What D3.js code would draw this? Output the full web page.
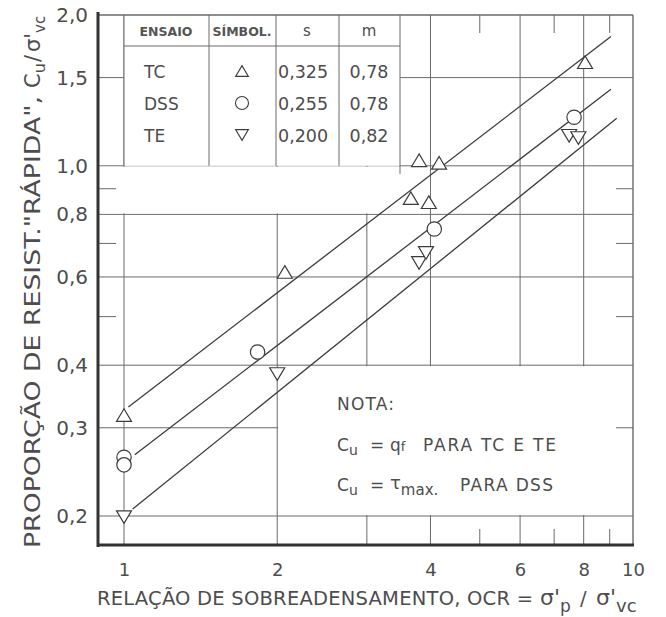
<!DOCTYPE html>
<html><head><meta charset="utf-8">
<script src="https://cdn.jsdelivr.net/npm/d3@7"></script>
<style>
html,body{margin:0;padding:0;background:#fff;}
svg{display:block;}
text{font-family:"DejaVu Sans",sans-serif;fill:#4d4d4d;}
</style></head><body>
<svg id="chart" width="666" height="617"></svg>
<script>
// Normalised undrained strength Cu/σ'vc against overconsolidation ratio (log-log)

// Fitted relation Cu/σ'vc = s · OCR^m, one per test type
const tests = ["TC", "DSS", "TE"];
const sValues = [0.325, 0.255, 0.200];
const mValues = [0.78, 0.78, 0.82];
const fitFrom = [1.02, 1.05, 1.04];   // OCR where each fitted line starts
const fitTo = [9.05, 9.05, 9.29];     // OCR where each fitted line ends

// Measured points
const ocrTC = [1.0, 2.07, 3.66, 3.80, 3.97, 4.16, 8.05];
const cuTC  = [0.318, 0.614, 0.862, 1.026, 0.846, 1.014, 1.61];
const ocrDSS = [1.0, 1.0, 1.83, 4.07, 7.66];
const cuDSS  = [0.262, 0.253, 0.425, 0.748, 1.25];
const ocrTE = [1.0, 2.0, 3.80, 3.92, 7.49, 7.81];
const cuTE  = [0.199, 0.384, 0.640, 0.670, 1.148, 1.136];

// Axis ticks and grid
const xTickLabels = [1, 2, 4, 6, 8, 10];
const yTickLabels = [0.2, 0.3, 0.4, 0.6, 0.8, 1.0, 1.5, 2.0];
const xGrid = [1, 2, 3, 4, 6, 8];
const yGrid = [0.2, 0.3, 0.4, 0.6, 0.8, 1.0, 1.5];
const xMinor = [5, 7, 9];
const yMinor = [0.5, 0.7, 0.9];

const ptBR = d3.formatLocale({decimal: ",", thousands: ".", grouping: [3], currency: ["", ""]});

const svg = d3.select("#chart");
const frame = {left: 98, right: 633, top: 15, bottom: 545};

const x = d3.scaleLog().domain([1, 10]).range([124, 633]);
const y = d3.scaleLog().domain([0.2, 2]).range([516, 15]);

const ink = "#3c3c3c", gridInk = "#6a6a6a";

// grid
const grid = svg.append("g").attr("stroke", gridInk).attr("stroke-width", 1);
grid.selectAll("line.v").data(xGrid).join("line")
  .attr("x1", d => x(d)).attr("x2", d => x(d))
  .attr("y1", frame.top).attr("y2", frame.bottom);
grid.selectAll("line.h").data(yGrid).join("line")
  .attr("x1", frame.left).attr("x2", frame.right)
  .attr("y1", d => y(d)).attr("y2", d => y(d));

// blank areas over the grid: band below 1,0 and the note panel
svg.append("rect").attr("fill", "#fff")
  .attr("x", frame.left + 2).attr("width", x(4) - frame.left - 3)
  .attr("y", y(1.0) + 1).attr("height", y(0.8) - y(1.0) - 2);
svg.append("rect").attr("fill", "#fff")
  .attr("x", x(2) + 1).attr("width", frame.right - x(2) - 2)
  .attr("y", y(0.4) + 1).attr("height", y(0.2) - y(0.4) - 2);

// legend table
const tbl = {left: x(1), right: 400, top: frame.top, bottom: y(1.0), head: 46, cols: [209, 276, 339]};
svg.append("rect").attr("fill", "#fff")
  .attr("x", tbl.left).attr("y", tbl.top)
  .attr("width", tbl.right - tbl.left).attr("height", tbl.bottom - tbl.top);
const tg = svg.append("g").attr("stroke", gridInk).attr("stroke-width", 1);
tg.append("line").attr("x1", tbl.left).attr("x2", tbl.left).attr("y1", tbl.top).attr("y2", tbl.bottom);
tg.append("line").attr("x1", tbl.right).attr("x2", tbl.right).attr("y1", tbl.top).attr("y2", tbl.bottom + 8);
tg.append("line").attr("x1", tbl.left).attr("x2", tbl.right).attr("y1", tbl.head).attr("y2", tbl.head);
tg.selectAll("line.c").data(tbl.cols).join("line")
  .attr("x1", d => d).attr("x2", d => d).attr("y1", tbl.top).attr("y2", tbl.bottom);

// short ticks on the frame
const tk = svg.append("g").attr("stroke", gridInk).attr("stroke-width", 1);
tk.selectAll("line.l").data(yMinor).join("line")
  .attr("x1", frame.left).attr("x2", frame.left + 18).attr("y1", d => y(d)).attr("y2", d => y(d));
tk.selectAll("line.r").data(yMinor.concat([0.3])).join("line")
  .attr("x1", frame.right - 17).attr("x2", frame.right).attr("y1", d => y(d)).attr("y2", d => y(d));
tk.selectAll("line.t").data(xMinor).join("line")
  .attr("x1", d => x(d)).attr("x2", d => x(d)).attr("y1", frame.top).attr("y2", frame.top + 18);
tk.selectAll("line.b").data(xMinor).join("line")
  .attr("x1", d => x(d)).attr("x2", d => x(d)).attr("y1", frame.bottom - 16).attr("y2", frame.bottom);

// frame
svg.append("line").attr("x1", frame.left).attr("x2", frame.right).attr("y1", frame.top).attr("y2", frame.top)
  .attr("stroke", gridInk).attr("stroke-width", 1.4);
svg.append("line").attr("x1", frame.right).attr("x2", frame.right).attr("y1", frame.top).attr("y2", frame.bottom)
  .attr("stroke", gridInk).attr("stroke-width", 1.4);
svg.append("line").attr("x1", frame.left).attr("x2", frame.left).attr("y1", frame.top - 3).attr("y2", frame.bottom + 2)
  .attr("stroke", "#333").attr("stroke-width", 3);
svg.append("line").attr("x1", frame.left - 1).attr("x2", frame.right + 1).attr("y1", frame.bottom).attr("y2", frame.bottom)
  .attr("stroke", "#333").attr("stroke-width", 3);

// axes (labels only)
const yAxis = svg.append("g").attr("transform", `translate(${frame.left},0)`)
  .call(d3.axisLeft(y).tickValues(yTickLabels).tickFormat(ptBR.format(".1f")).tickSize(0).tickPadding(10));
const xAxis = svg.append("g").attr("transform", `translate(0,${frame.bottom})`)
  .call(d3.axisBottom(x).tickValues(xTickLabels).tickFormat(d3.format("d")).tickSize(0).tickPadding(18));
[yAxis, xAxis].forEach(g => {
  g.select(".domain").remove();
  g.attr("font-family", null).attr("font-size", null);
  g.selectAll("text").attr("fill", "#4d4d4d");
});
yAxis.selectAll("text").style("font-size", "20px");
xAxis.selectAll("text").style("font-size", "18px");

// fitted lines
const lineGen = d3.line().x(d => x(d[0])).y(d => y(d[1]));
tests.forEach((t, i) => {
  const pts = [fitFrom[i], fitTo[i]].map(o => [o, sValues[i] * Math.pow(o, mValues[i])]);
  svg.append("path").attr("d", lineGen(pts))
    .attr("fill", "none").attr("stroke", ink).attr("stroke-width", 1.3);
});

// markers
const triUp = k => `M0,${-6.3 * k}L${7.5 * k},${6.3 * k}L${-7.5 * k},${6.3 * k}Z`;
const triDown = k => `M0,${6.3 * k}L${7.5 * k},${-6.3 * k}L${-7.5 * k},${-6.3 * k}Z`;
const mk = svg.append("g").attr("fill", "#fff").attr("stroke", ink).attr("stroke-width", 1.2);
mk.selectAll("path.tc").data(d3.zip(ocrTC, cuTC)).join("path")
  .attr("d", triUp(1)).attr("transform", d => `translate(${x(d[0])},${y(d[1])})`);
mk.selectAll("circle.dss").data(d3.zip(ocrDSS, cuDSS)).join("circle")
  .attr("cx", d => x(d[0])).attr("cy", d => y(d[1])).attr("r", 7.2);
mk.selectAll("path.te").data(d3.zip(ocrTE, cuTE)).join("path")
  .attr("d", triDown(1)).attr("transform", d => `translate(${x(d[0])},${y(d[1])})`);

// table contents
const hdr = svg.append("g").style("font-size", "12.5px").style("font-weight", "bold");
hdr.append("text").attr("x", 166).attr("y", 36).attr("text-anchor", "middle").text("ENSAIO").style("fill", "#555");
hdr.append("text").attr("x", 242).attr("y", 36).attr("text-anchor", "middle").text("SÍMBOL.").style("fill", "#555");
svg.append("text").attr("x", 307).attr("y", 36).attr("text-anchor", "middle").style("font-size", "15px").text("s");
svg.append("text").attr("x", 369).attr("y", 36).attr("text-anchor", "middle").style("font-size", "15px").text("m");
const rowY = [78, 110, 142];
const sym = [triUp(0.85), null, triDown(0.85)];
tests.forEach((t, i) => {
  svg.append("text").attr("x", 144).attr("y", rowY[i]).style("font-size", "17px").text(t);
  svg.append("text").attr("x", 278).attr("y", rowY[i]).style("font-size", "17.5px").text(ptBR.format(".3f")(sValues[i]));
  svg.append("text").attr("x", 369).attr("y", rowY[i]).attr("text-anchor", "middle").style("font-size", "17.5px").text(ptBR.format(".2f")(mValues[i]));
  if (sym[i]) {
    svg.append("path").attr("d", sym[i]).attr("transform", `translate(242,${rowY[i] - 7})`)
      .attr("fill", "none").attr("stroke", ink).attr("stroke-width", 1.1);
  } else {
    svg.append("circle").attr("cx", 242).attr("cy", rowY[i] - 7).attr("r", 6.5)
      .attr("fill", "none").attr("stroke", ink).attr("stroke-width", 1.1);
  }
});

// note
const note = svg.append("g").style("font-size", "17px");
note.append("text").attr("x", 337).attr("y", 410).attr("textLength", 57).attr("lengthAdjust", "spacing").text("NOTA:");
const n1 = note.append("text").attr("y", 451);
n1.append("tspan").attr("x", 337).text("C");
n1.append("tspan").attr("dy", 4).style("font-size", "14px").text("u");
n1.append("tspan").attr("x", 370).attr("dy", -4).text("=");
n1.append("tspan").attr("x", 390).text("q");
n1.append("tspan").style("font-size", "13px").text("f");
note.append("text").attr("x", 423).attr("y", 451).attr("textLength", 133).attr("lengthAdjust", "spacing").text("PARA TC E TE");
const n2 = note.append("text").attr("y", 491);
n2.append("tspan").attr("x", 337).text("C");
n2.append("tspan").attr("dy", 4).style("font-size", "14px").text("u");
n2.append("tspan").attr("x", 370).attr("dy", -4).text("=");
n2.append("tspan").attr("x", 390).attr("dy", -2).style("font-size", "18px").text("τ");
n2.append("tspan").attr("dy", 6).style("font-size", "15px").text("max.");
note.append("text").attr("x", 460).attr("y", 491).attr("textLength", 93).attr("lengthAdjust", "spacing").text("PARA DSS");

// x title
const xt = svg.append("g").style("font-size", "19.5px");
xt.append("text").attr("x", 97).attr("y", 605)
  .attr("textLength", 436).attr("lengthAdjust", "spacing")
  .text("RELAÇÃO DE SOBREADENSAMENTO, OCR =");
const xs = xt.append("text").attr("y", 605);
xs.append("tspan").attr("x", 540).style("font-size", "22px").text("σ'");
xs.append("tspan").attr("dy", 7).style("font-size", "17px").text("p");
xs.append("tspan").attr("x", 580).attr("dy", -7).text("/");
xs.append("tspan").attr("x", 596).style("font-size", "22px").text("σ'");
xs.append("tspan").attr("dy", 7).style("font-size", "18px").text("vc");

// y title
const yt = svg.append("g").attr("transform", "translate(40,548) rotate(-90)").style("font-size", "21px");
yt.append("text").attr("x", 0).attr("y", 0)
  .attr("textLength", 452).attr("lengthAdjust", "spacingAndGlyphs")
  .text("PROPORÇÃO DE RESIST.\"RÁPIDA\",");
const ys = yt.append("text").attr("y", 0);
ys.append("tspan").attr("x", 460).text("C");
ys.append("tspan").attr("dy", 5).style("font-size", "16px").text("u");
ys.append("tspan").attr("x", 486).attr("dy", -5).text("/");
ys.append("tspan").attr("x", 496).style("font-size", "21px").text("σ'");
ys.append("tspan").attr("dy", 5).style("font-size", "15px").text("vc");
</script>
</body></html>
